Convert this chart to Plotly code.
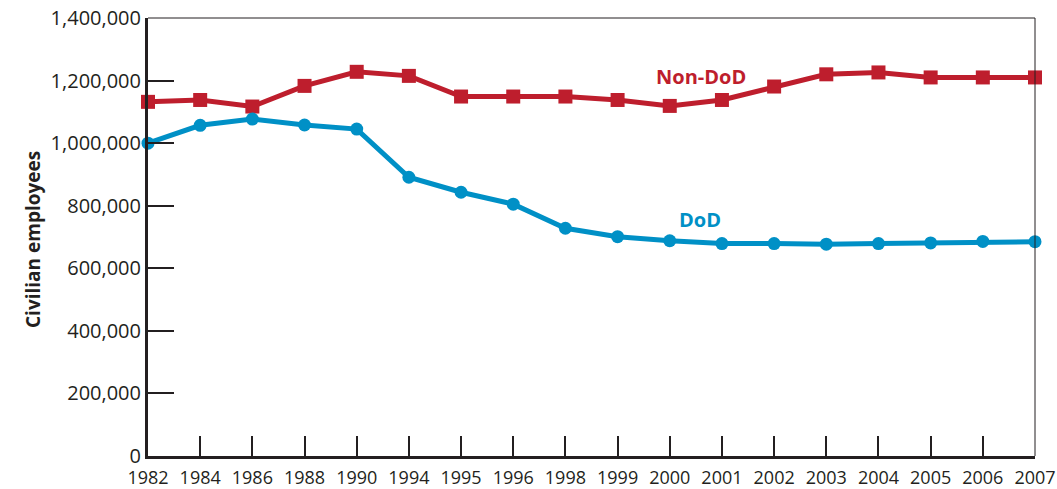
import plotly.graph_objects as go

years = ["1982", "1984", "1986", "1988", "1990", "1994", "1995", "1996", "1998",
         "1999", "2000", "2001", "2002", "2003", "2004", "2005", "2006", "2007"]

non_dod = [1132000, 1138000, 1117000, 1183000, 1228000, 1215000, 1149000, 1149000, 1149000,
           1138000, 1119000, 1138000, 1181000, 1220000, 1226000, 1210000, 1210000, 1210000]

dod = [1000000, 1057000, 1077000, 1058000, 1045000, 891000, 843000, 805000, 728000,
       701000, 688000, 679000, 679000, 677000, 679000, 681000, 686000, 685000]

y_ticks = [0, 200000, 400000, 600000, 800000, 1000000, 1200000, 1400000]

red = "#BE1E2D"
blue = "#0090C6"
ink = "#231F20"
font = "Open Sans"

fig = go.Figure()
fig.add_scatter(x=years, y=non_dod, name="Non-DoD", mode="lines+markers",
                line=dict(color=red, width=5), marker=dict(symbol="square", size=14, color=red),
                cliponaxis=False)
fig.add_scatter(x=years, y=dod, name="DoD", mode="lines+markers",
                line=dict(color=blue, width=5), marker=dict(symbol="circle", size=13, color=blue),
                cliponaxis=False)

# series labels placed near the 2000 point
i2000 = years.index("2000")
fig.add_annotation(x=i2000, y=1214000, text="<b>Non-DoD</b>", showarrow=False,
                   font=dict(color=red, size=20, family=font), xshift=31)
fig.add_annotation(x=i2000, y=757000, text="<b>DoD</b>", showarrow=False,
                   font=dict(color=blue, size=20, family=font), xshift=30)

# y axis title as a rotated annotation so margins stay fixed
fig.add_annotation(xref="paper", yref="paper", x=0, y=0.5, xshift=-130, yshift=-3,
                   text="<b>Civilian employees</b>", textangle=-90, showarrow=False,
                   font=dict(size=19, family=font, color=ink))

# thin top and right frame lines
fig.add_shape(type="line", xref="paper", yref="paper", x0=0, x1=1, y0=1, y1=1,
              line=dict(color=ink, width=1))
fig.add_shape(type="line", xref="paper", yref="paper", x0=1, x1=1, y0=0, y1=1,
              line=dict(color=ink, width=1))

fig.update_layout(
    width=1057, height=489,
    margin=dict(l=148, r=22, t=18, b=33),
    plot_bgcolor="white", paper_bgcolor="white",
    showlegend=False,
    font=dict(family=font, color=ink),
    xaxis=dict(type="category", range=[0, 17], showgrid=False, zeroline=False,
               automargin=False,
               showline=True, linecolor=ink, linewidth=3,
               ticks="inside", ticklen=20, tickwidth=1.5, tickcolor=ink,
               tickfont=dict(size=18), ticklabelstandoff=3),
    yaxis=dict(range=[0, 1400000], tickvals=y_ticks, tickformat=",d",
               showgrid=False, zeroline=False, automargin=False,
               showline=True, linecolor=ink, linewidth=3,
               ticks="inside", ticklen=26, tickwidth=1.5, tickcolor=ink,
               tickfont=dict(size=20)),
)

# drop the default page margin so the figure sits at the window's corner
fig.write_html("out.html", config={"displayModeBar": False},
               post_script="document.body.style.margin='0';document.body.style.overflow='hidden';")
